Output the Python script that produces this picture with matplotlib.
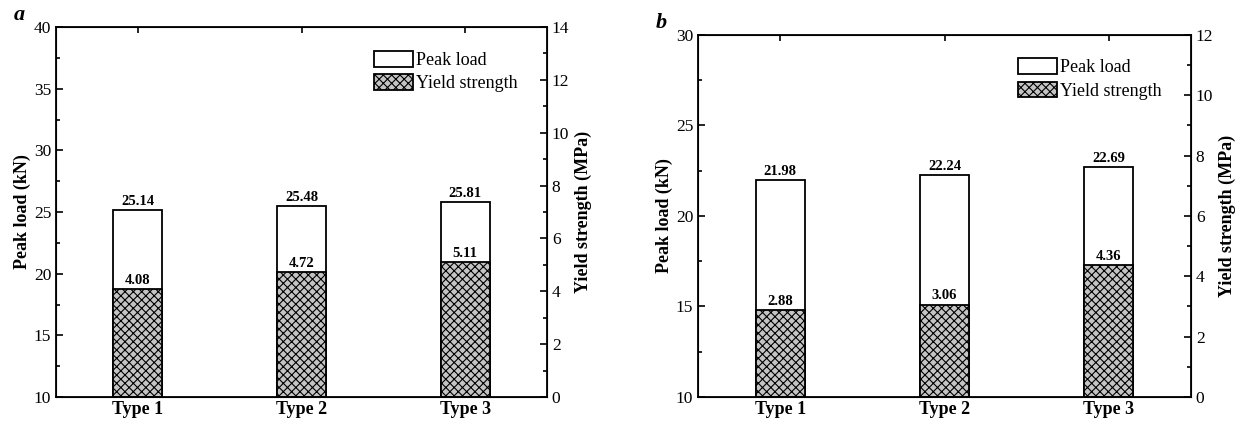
import matplotlib
matplotlib.use('Agg')
import matplotlib.pyplot as plt
from matplotlib.patches import Patch
from matplotlib.ticker import MultipleLocator

plt.rcParams['font.family'] = ['Liberation Serif', 'DejaVu Serif']
plt.rcParams['hatch.linewidth'] = 0.8

types = ['Type 1', 'Type 2', 'Type 3']

# panel a
peak_a = [25.14, 25.48, 25.81]
yield_a = [4.08, 4.72, 5.11]
# panel b
peak_b = [21.98, 22.24, 22.69]
yield_b = [2.88, 3.06, 4.36]

x = [1, 2, 3]
width = 0.3
HATCH = 'xxxx'
GRAY = '#c4c4c4'

fig = plt.figure(figsize=(12.37, 4.23), dpi=100)


def panel(rect, peak, ys, ylim1, ylim2, letter):
    ax = fig.add_axes(rect)
    ax2 = ax.twinx()
    ax.bar(x, [p - ylim1[0] for p in peak], width, bottom=ylim1[0],
           color='white', edgecolor='black', linewidth=1.3)
    ax2.bar(x, ys, width, color=GRAY, edgecolor='black',
            linewidth=1.3, hatch=HATCH)
    ax.set_xlim(0.5, 3.5)
    ax.set_ylim(*ylim1)
    ax2.set_ylim(*ylim2)
    ax.yaxis.set_major_locator(MultipleLocator(5))
    ax.yaxis.set_minor_locator(MultipleLocator(2.5))
    ax2.yaxis.set_major_locator(MultipleLocator(2))
    ax2.yaxis.set_minor_locator(MultipleLocator(1))
    ax.set_xticks(x)
    ax.set_xticklabels(types, fontweight='bold', fontsize=13)
    ax.tick_params(axis='x', direction='in', top=True, length=4, width=1.2, pad=3)
    for a in (ax, ax2):
        a.tick_params(axis='y', which='both', direction='in', labelsize=12.5, width=1.2)
        a.tick_params(axis='y', which='major', length=5)
        a.tick_params(axis='y', which='minor', length=3)
    ax.set_ylabel('Peak load (kN)', fontweight='bold', fontsize=13, labelpad=2)
    ax2.set_ylabel('Yield strength (MPa)', fontweight='bold', fontsize=13, labelpad=4)
    for sp in ax2.spines.values():
        sp.set_linewidth(1.3)
    for xi, p, yv in zip(x, peak, ys):
        ax.text(xi, p + 0.2 * (ylim1[1] - ylim1[0]) / 30, '%.2f' % p,
                ha='center', va='bottom', fontweight='bold', fontsize=10.5)
        ax2.text(xi, yv + 0.2 * (ylim2[1] - ylim2[0]) / 30, '%.2f' % yv,
                 ha='center', va='bottom', fontweight='bold', fontsize=10.5)
    handles = [Patch(facecolor='white', edgecolor='black', linewidth=1.3),
               Patch(facecolor=GRAY, edgecolor='black', linewidth=1.3, hatch=HATCH)]
    ax2.legend(handles, ['Peak load', 'Yield strength'], loc='upper right',
               bbox_to_anchor=(0.955, 0.955), frameon=False, fontsize=13,
               handlelength=2.2, handleheight=0.95, handletextpad=0.15,
               labelspacing=0.3, borderaxespad=0)
    fig.text(rect[0] - 0.034, rect[1] + rect[3] + 0.005, letter,
             fontsize=16, fontweight='bold', style='italic', va='bottom')


panel([0.0453, 0.0615, 0.3969, 0.8745], peak_a, yield_a, (10, 40), (0, 14), 'a')
panel([0.5643, 0.0615, 0.3985, 0.8558], peak_b, yield_b, (10, 30), (0, 12), 'b')

fig.savefig('out.png', dpi=100)
